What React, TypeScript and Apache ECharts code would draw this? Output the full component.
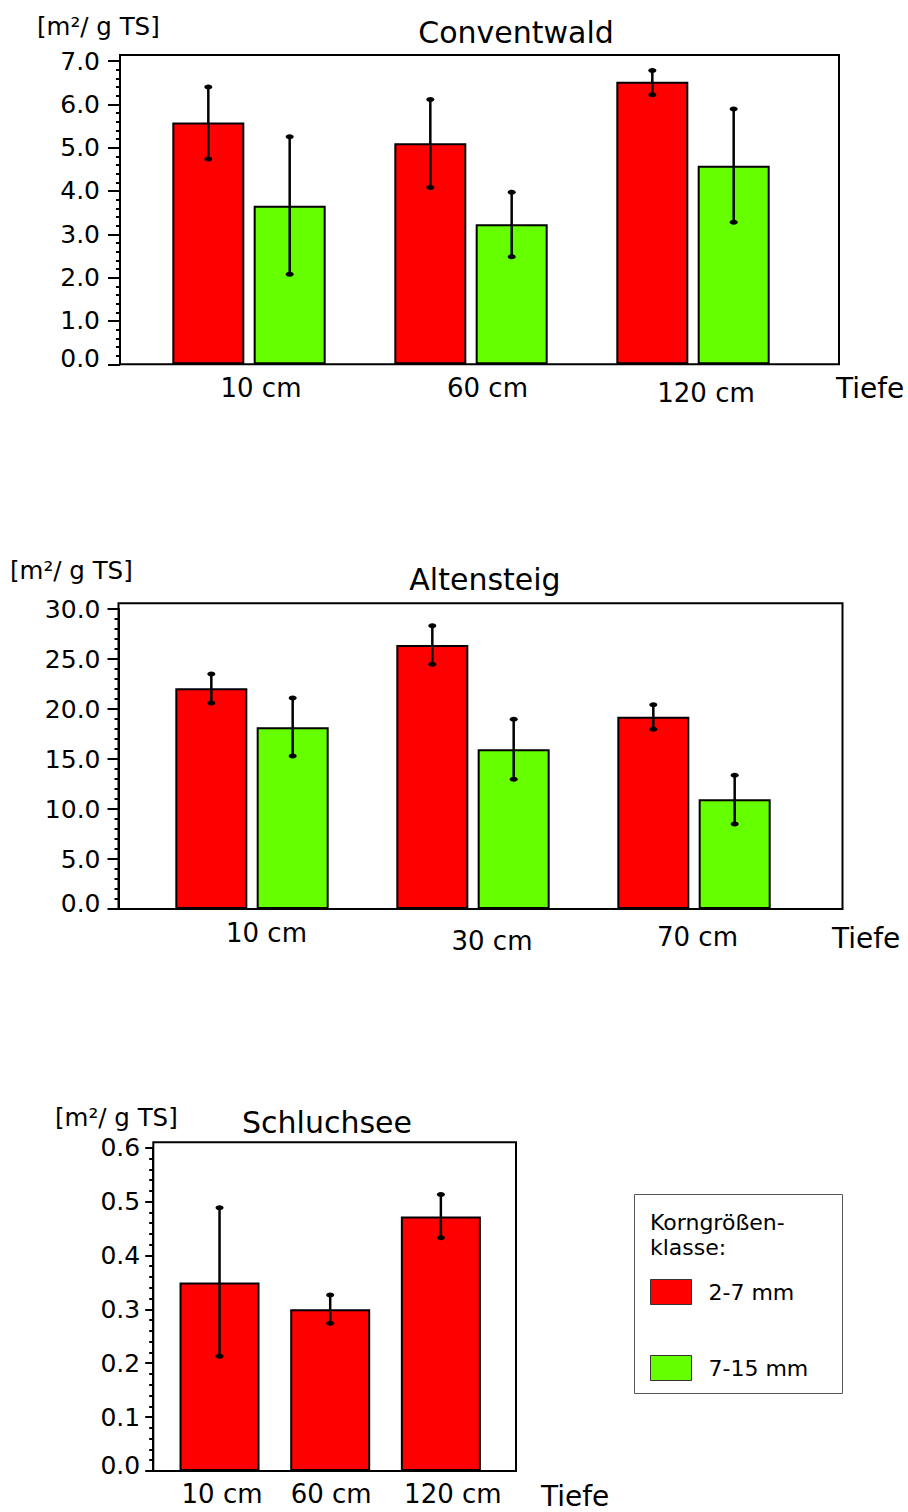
import React, { useEffect, useRef } from "react";
import * as echarts from "echarts";

// ---------- data ----------
const SERIES_NAMES = ["2-7 mm", "7-15 mm"];

const convCategories = ["10 cm", "60 cm", "120 cm"];
const convRed = [5.58, 5.1, 6.52];
const convRedLow = [4.74, 4.08, 6.22];
const convRedHigh = [6.4, 6.11, 6.78];
const convGreen = [3.66, 3.23, 4.58];
const convGreenLow = [2.08, 2.48, 3.28];
const convGreenHigh = [5.25, 3.97, 5.89];
const convTicks = { min: 0, max: 7, interval: 1 };

const altCategories = ["10 cm", "30 cm", "70 cm"];
const altRed = [22.07, 26.4, 19.23];
const altRedLow = [20.6, 24.47, 17.97];
const altRedHigh = [23.5, 28.33, 20.43];
const altGreen = [18.17, 15.97, 10.97];
const altGreenLow = [15.3, 12.97, 8.5];
const altGreenHigh = [21.1, 18.97, 13.37];
const altTicks = { min: 0, max: 30, interval: 5 };

const schCategories = ["10 cm", "60 cm", "120 cm"];
const schRed = [0.35, 0.3, 0.4725];
const schRedLow = [0.213, 0.274, 0.433];
const schRedHigh = [0.4885, 0.3265, 0.513];
const schTicks = { min: 0, max: 0.6, interval: 0.1 };

const TITLES = ["Conventwald", "Altensteig", "Schluchsee"];
const UNIT = "[m²/ g TS]";
const X_NAME = "Tiefe";
const LEGEND_HEAD = ["Korngrößen-", "klasse:"];

// ---------- style ----------
const FONT = "'DejaVu Sans', Verdana, sans-serif";
const RED = "#ff0000";
const GREEN = "#66ff00";
const BAR_GAP_PCT = 13;

type Panel = {
  cats: string[];
  ticks: { min: number; max: number; interval: number };
  series: { name: string; color: string; values: number[]; low: number[]; high: number[] }[];
  grid: { left: number; width: number; top: number; height: number };
  axisOffset: number;
  tickLen: number;
  labelMargin: number;
  labelFont: number;
  barWidth: number;
  xMargin: number;
  catPads: [number, number][];
};

const panels: Panel[] = [
  {
    cats: convCategories,
    ticks: convTicks,
    series: [
      { name: SERIES_NAMES[0], color: RED, values: convRed, low: convRedLow, high: convRedHigh },
      { name: SERIES_NAMES[1], color: GREEN, values: convGreen, low: convGreenLow, high: convGreenHigh },
    ],
    grid: { left: 138, width: 666, top: 61, height: 303.3 },
    axisOffset: 18,
    tickLen: 12,
    labelMargin: 20,
    labelFont: 25,
    barWidth: 72,
    xMargin: 11,
    catPads: [[0, 24], [0, 33], [5, 26]],
  },
  {
    cats: altCategories,
    ticks: altTicks,
    series: [
      { name: SERIES_NAMES[0], color: RED, values: altRed, low: altRedLow, high: altRedHigh },
      { name: SERIES_NAMES[1], color: GREEN, values: altGreen, low: altGreenLow, high: altGreenHigh },
    ],
    grid: { left: 141.5, width: 663, top: 609, height: 300 },
    axisOffset: 23,
    tickLen: 11,
    labelMargin: 18,
    labelFont: 25,
    barWidth: 72,
    xMargin: 11,
    catPads: [[0, 29], [8, 38], [4, 7]],
  },
  {
    cats: schCategories,
    ticks: schTicks,
    series: [{ name: SERIES_NAMES[0], color: RED, values: schRed, low: schRedLow, high: schRedHigh }],
    grid: { left: 164.2, width: 332, top: 1147.7, height: 323.3 },
    axisOffset: 11,
    tickLen: 8,
    labelMargin: 13,
    labelFont: 25,
    barWidth: 80,
    xMargin: 10,
    catPads: [[0, 5], [0, 2], [0, 24]],
  },
];

const frames = [
  { x: 120, y: 55, w: 719, h: 309.3 },
  { x: 118.5, y: 603.3, w: 724, h: 305.7 },
  { x: 153.3, y: 1142.3, w: 362.7, h: 328.7 },
];
const titlePos = [
  { x: 516, y: 32 },
  { x: 485, y: 579 },
  { x: 327, y: 1122 },
];
const unitPos = [
  { x: 37, y: 26 },
  { x: 10, y: 570 },
  { x: 55, y: 1117 },
];
const tiefePos = [
  { x: 836, y: 388 },
  { x: 832, y: 938 },
  { x: 541, y: 1496 },
];

function buildOption() {
  const grid: any[] = [];
  const xAxis: any[] = [];
  const yAxis: any[] = [];
  const series: any[] = [];
  const graphic: any[] = [];

  panels.forEach((p, pi) => {
    grid.push({ ...p.grid, containLabel: false });
    const rich: any = {};
    p.catPads.forEach((pad, i) => {
      rich["c" + i] = {
        fontSize: 26,
        fontFamily: FONT,
        color: "#000",
        padding: [pad[0], 0, 0, pad[1]],
      };
    });
    xAxis.push({
      type: "category",
      gridIndex: pi,
      data: p.cats,
      axisLine: { show: false },
      axisTick: { show: false },
      splitLine: { show: false },
      axisLabel: {
        interval: 0,
        hideOverlap: false,
        margin: p.xMargin,
        fontSize: 26,
        fontFamily: FONT,
        color: "#000",
        formatter: (v: string, i: number) => `{c${i}|${v}}`,
        rich,
      },
    });
    yAxis.push({
      type: "value",
      gridIndex: pi,
      min: p.ticks.min,
      max: p.ticks.max,
      interval: p.ticks.interval,
      offset: p.axisOffset,
      axisLine: { show: true, lineStyle: { color: "#000", width: 2 } },
      axisTick: { show: true, length: p.tickLen, lineStyle: { color: "#000", width: 2 } },
      minorTick: { show: true, splitNumber: 5, length: 4, lineStyle: { color: "#000", width: 2 } },
      splitLine: { show: false },
      minorSplitLine: { show: false },
      axisLabel: {
        margin: p.labelMargin,
        fontSize: p.labelFont,
        fontFamily: FONT,
        color: "#000",
        formatter: (v: number) => (Math.abs(v) < 1e-9 ? "{z|0.0}" : v.toFixed(1)),
        rich: {
          z: { fontSize: p.labelFont, fontFamily: FONT, color: "#000", padding: [0, 0, 12, 0] },
        },
      },
    });

    const n = p.series.length;
    p.series.forEach((s) => {
      series.push({
        type: "bar",
        name: s.name,
        xAxisIndex: pi,
        yAxisIndex: pi,
        data: s.values,
        barWidth: p.barWidth,
        barGap: BAR_GAP_PCT + "%",
        itemStyle: { color: s.color, borderColor: "#000", borderWidth: 2 },
        z: 2,
      });
    });
    p.series.forEach((s, si) => {
      const step = p.barWidth * (1 + BAR_GAP_PCT / 100);
      const offset = (si - (n - 1) / 2) * step;
      series.push({
        type: "custom",
        name: s.name + " err",
        xAxisIndex: pi,
        yAxisIndex: pi,
        z: 5,
        silent: true,
        encode: { x: 0, y: [1, 2] },
        data: s.low.map((lo, i) => [i, lo, s.high[i]]),
        renderItem: (params: any, api: any) => {
          const ci = api.value(0);
          const lo = api.coord([ci, api.value(1)]);
          const hi = api.coord([ci, api.value(2)]);
          const cx = lo[0] + offset;
          return {
            type: "group",
            children: [
              {
                type: "line",
                shape: { x1: cx, y1: hi[1], x2: cx, y2: lo[1] },
                style: { stroke: "#000", lineWidth: 2.5 },
              },
              { type: "ellipse", shape: { cx, cy: hi[1], rx: 4, ry: 2.5 }, style: { fill: "#000" } },
              { type: "ellipse", shape: { cx, cy: lo[1], rx: 4, ry: 2.5 }, style: { fill: "#000" } },
            ],
          };
        },
      });
    });

    const f = frames[pi];
    graphic.push({
      type: "rect",
      shape: { x: f.x, y: f.y, width: f.w, height: f.h },
      style: { fill: "none", stroke: "#000", lineWidth: 2 },
      z: 1,
      silent: true,
    });
    graphic.push({
      type: "text",
      x: titlePos[pi].x,
      y: titlePos[pi].y,
      style: {
        text: TITLES[pi],
        fontSize: 30,
        fontFamily: FONT,
        fill: "#000",
        align: "center",
        verticalAlign: "middle",
      },
    });
    graphic.push({
      type: "text",
      x: unitPos[pi].x,
      y: unitPos[pi].y,
      style: {
        text: UNIT,
        fontSize: 24.5,
        fontFamily: FONT,
        fill: "#000",
        align: "left",
        verticalAlign: "middle",
      },
    });
    graphic.push({
      type: "text",
      x: tiefePos[pi].x,
      y: tiefePos[pi].y,
      style: {
        text: X_NAME,
        fontSize: 28,
        fontFamily: FONT,
        fill: "#000",
        align: "left",
        verticalAlign: "middle",
      },
    });
  });

  // legend box and header
  graphic.push({
    type: "rect",
    shape: { x: 634.5, y: 1194.5, width: 208, height: 199 },
    style: { fill: "#fff", stroke: "#555", lineWidth: 1 },
    z: 0,
  });
  LEGEND_HEAD.forEach((t, i) => {
    graphic.push({
      type: "text",
      x: 650,
      y: 1222 + i * 25,
      style: {
        text: t,
        fontSize: 22,
        fontFamily: FONT,
        fill: "#000",
        align: "left",
        verticalAlign: "middle",
      },
    });
  });

  return {
    animation: false,
    backgroundColor: "#fff",
    grid,
    xAxis,
    yAxis,
    series,
    graphic,
    legend: {
      data: SERIES_NAMES,
      orient: "vertical",
      left: 650,
      top: 1279,
      padding: 0,
      itemWidth: 41,
      itemHeight: 25,
      itemGap: 50,
      icon: "rect",
      selectedMode: false,
      itemStyle: { borderWidth: 1, borderColor: "#333" },
      textStyle: { fontSize: 22, fontFamily: FONT, color: "#000", padding: [0, 0, 0, 12] },
    },
  };
}

export default function App() {
  const ref = useRef<HTMLDivElement>(null);
  useEffect(() => {
    if (!ref.current) return;
    const chart = echarts.init(ref.current, undefined, { renderer: "svg" });
    chart.setOption(buildOption() as any);
    return () => chart.dispose();
  }, []);
  return (
    <div
      ref={ref}
      style={{ position: "absolute", left: 0, top: 0, width: 908, height: 1512, background: "#fff" }}
    />
  );
}
